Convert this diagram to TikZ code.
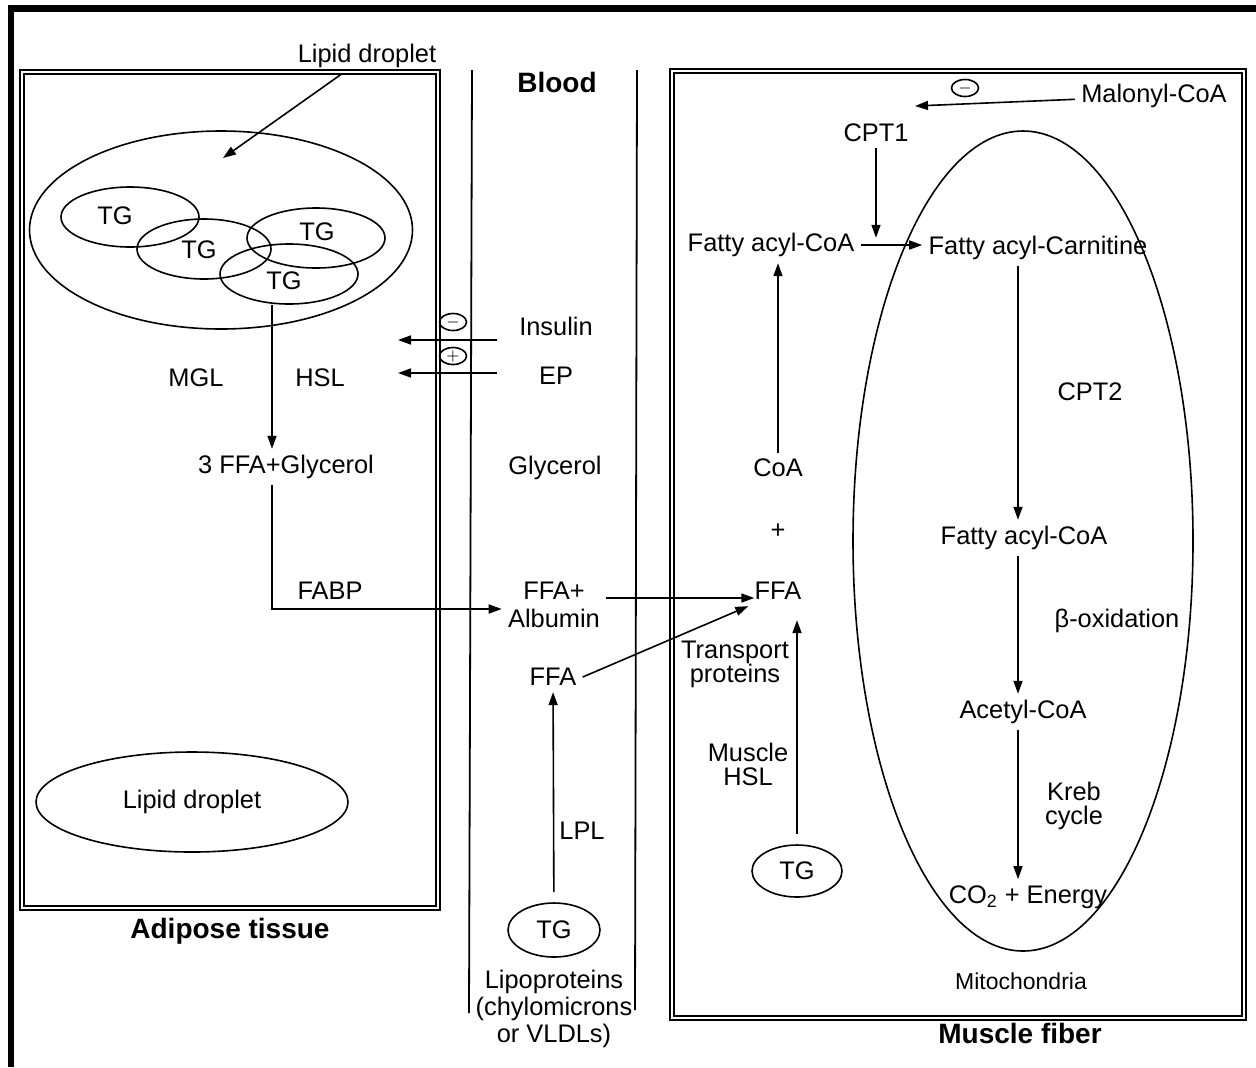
\documentclass[tikz,border=0pt]{standalone}
\usepackage{fontspec}
\setmainfont{Liberation Sans}
\usepackage{tikz}
\usetikzlibrary{positioning,arrows.meta,shapes.geometric,calc}
\tikzset{
  lab/.style ={inner sep=3pt, align=center},
  ttl/.style ={inner sep=2pt, font=\fontsize{14}{16}\selectfont\bfseries},
  tg/.style  ={ellipse, draw, line width=0.8pt, inner sep=0pt},
  sgn/.style ={ellipse, draw, line width=0.8pt, inner sep=0pt, minimum width=13.5pt, minimum height=8.5pt, font=\fontsize{8.5}{8.5}\selectfont},
  arr/.style ={-{Triangle[length=6.5pt,width=4.5pt]}, line width=0.8pt},
  wall/.style={line width=0.9pt},
  wallin/.style={line width=0.6pt},
}

\begin{document}
\begin{tikzpicture}[x=0.5pt,y=-0.5pt,font=\fontsize{12.7}{12}\selectfont]
  \useasboundingbox (0,0) rectangle (1256,1067);
  % frame and compartments
  \fill (8,5) rectangle (1256,12);
  \fill (8,5) rectangle (14,1067);
  \draw[wall]   (20,70) rectangle (440,910);
  \draw[wallin] (24,74) rectangle (436,906);
  \draw[wall]   (472,70) -- (469,1013);
  \draw[wall]   (637,70) -- (635,1010);
  \draw[wall]   (670,69) rectangle (1246,1020);
  \draw[wallin] (674,73) rectangle (1242,1016);
  \node[ttl] (adip)  at (230,931)  {Adipose tissue};
  \node[ttl] (blood) at (557,82)   {Blood};
  \node[ttl] (fiber) at (1020,1033) {Muscle fiber};

  % adipose tissue
  \node[lab] (ldTop) at (367,56) {Lipid droplet};
  \node[tg, minimum width=191.5pt, minimum height=99pt] (drop) at (221,230) {};
  \coordinate (dropIn) at (223,158);
  \draw[arr] (ldTop) -- (dropIn);
  \node[tg, minimum width=69pt, minimum height=30pt] (tg1) at (130,217) {};
  \node[tg, minimum width=67pt, minimum height=30pt] (tg2) at (204,249) {};
  \node[tg, minimum width=69pt, minimum height=30pt] (tg3) at (316,238) {};
  \node[tg, minimum width=69pt, minimum height=30pt] (tg4) at (289,274) {};
  \node[lab] (tg1t) at (115,216) {TG};
  \node[lab] (tg2t) at (199,250) {TG};
  \node[lab] (tg3t) at (317,232) {TG};
  \node[lab] (tg4t) at (284,281) {TG};
  \node[lab] (mgl)  at (196,378) {MGL};
  \node[lab] (hsl)  at (320,378) {HSL};
  \node[lab] (ffa3) at (286,467) {3 FFA+Glycerol};
  \draw[arr] (272,0 |- tg4.south) -- (272,0 |- ffa3.north);
  \node[lab] (fabp) at (330,591) {FABP};
  \node[tg, minimum width=156pt, minimum height=50pt] (drop2) at (192,802) {Lipid droplet};

  % blood
  \node[lab] (ins)  at (556,326) {Insulin};
  \node[lab] (ep)   at (556,376) {EP};
  \coordinate (insS) at (497,340);
  \coordinate (insT) at (398,340);
  \coordinate (epS)  at (497,373);
  \coordinate (epT)  at (398,373);
  \draw[arr] (insS) -- (insT);
  \draw[arr] (epS) -- (epT);
  \node[sgn] (minus1) at (453,322) {$-$};
  \node[sgn] (plus1)  at (453,356) {$+$};
  \node[lab] (glyc) at (555,468) {Glycerol};
  \node[lab] (alb)  at (554,605) {FFA+\\[2pt]Albumin};
  \draw[arr] (272,0 |- ffa3.south) |- ([yshift=-2pt]alb.west);
  \node[lab] (ffaB) at (553,677) {FFA};
  \node[lab] (lpl)  at (582,831) {LPL};
  \node[tg, minimum width=46pt, minimum height=27pt] (tgB) at (554,930) {TG};
  \node[lab] (lipo) at (554,1009) {Lipoproteins\\[1.5pt](chylomicrons\\[1.5pt]or VLDLs)};
  \draw[arr, shorten <=5pt] (tgB) -- (ffaB);

  % muscle fiber
  \node[lab] (mal)   at (1154,96)  {Malonyl-CoA};
  \coordinate (malT) at (915,106);
  \draw[arr] (mal) -- (malT);
  \node[sgn] (minus2) at (965,88) {$-$};
  \node[lab] (cpt1)  at (876,133) {CPT1};
  \node[lab] (faCoA) at (771,245) {Fatty acyl-CoA};
  \node[lab] (faCar) at (1038,248) {Fatty acyl-Carnitine};
  \draw[arr, shorten >=-4pt] (cpt1) -- (cpt1 |- faCar.north);
  \draw[arr] (faCoA.east) -- (faCoA.east -| faCar.west);
  \node[lab] (coa)   at (778,468) {CoA};
  \node[lab] (plus)  at (778,531) {+};
  \node[lab] (ffaM)  at (778,591) {FFA};
  \draw[arr] (coa) -- (coa |- faCoA.south);
  \draw[arr, shorten >=-3pt] ([yshift=3.5pt]alb.east) -- ([yshift=3.5pt]alb.east -| ffaM.west);
  \draw[arr] (ffaB.east) -- (ffaM.south west);
  \node[lab] (trans) at (735,664) {Transport\\proteins};
  \node[lab] (mhsl)  at (748,764) {Muscle\\HSL};
  \node[tg, minimum width=45pt, minimum height=26pt] (tgM) at (797,871) {TG};
  \draw[arr, shorten <=5pt, shorten >=7pt] (tgM) -- (tgM |- ffaM.south);

  % mitochondria
  \node[tg, minimum width=170pt, minimum height=410pt] (mito) at (1023,541) {};
  \node[lab] (faCoA2) at (1024,538) {Fatty acyl-CoA};
  \node[lab] (acet)   at (1023,712) {Acetyl-CoA};
  \node[lab] (co2)    at (1028,897) {CO\textsubscript{2} + Energy};
  \node[lab] (cpt2)   at (1090,392) {CPT2};
  \node[lab] (boxid)  at (1117,621) {β-oxidation};
  \node[lab] (kreb)   at (1074,806) {Kreb\\cycle};
  \node[lab, font=\fontsize{11.5}{12}\selectfont] (mitoLab) at (1021,981) {Mitochondria};
  \draw[arr] (1018,0 |- faCar.south) -- (1018,0 |- faCoA2.north);
  \draw[arr] (1018,0 |- faCoA2.south) -- (1018,0 |- acet.north);
  \draw[arr] (1018,0 |- acet.south) -- (1018,0 |- co2.north);
\end{tikzpicture}
\end{document}
